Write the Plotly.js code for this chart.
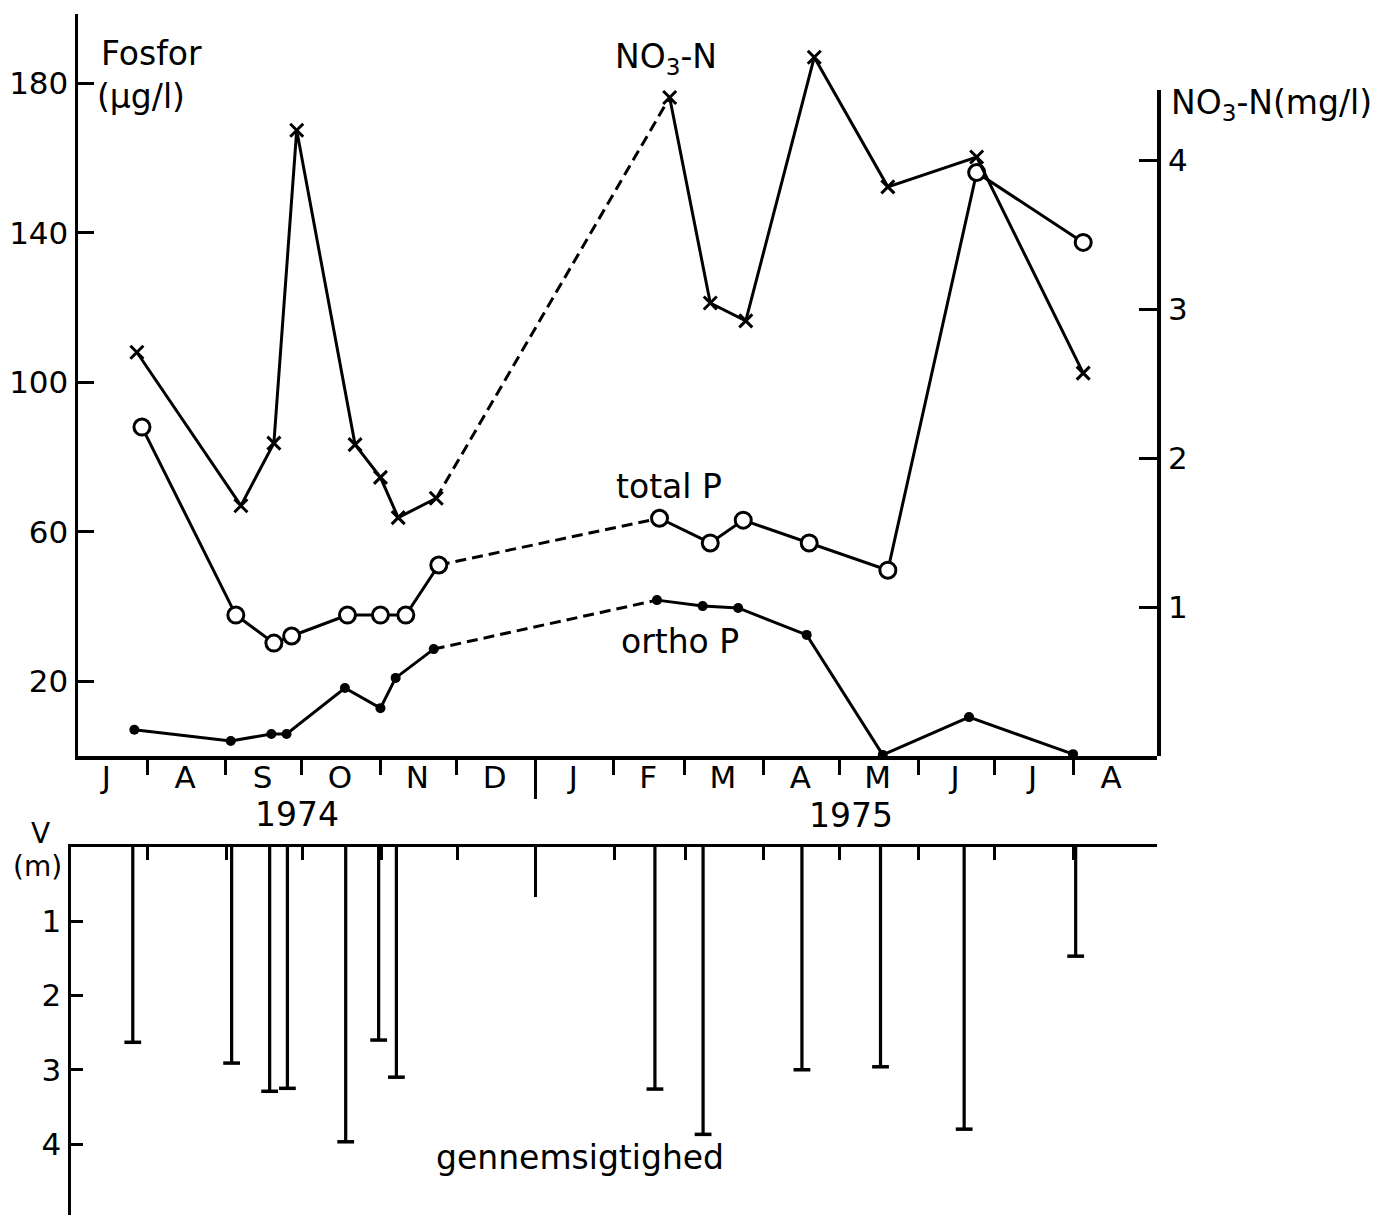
<!DOCTYPE html>
<html><head><meta charset="utf-8">
<script src="https://cdn.plot.ly/plotly-3.0.1.min.js"></script>
<style>html,body{margin:0;padding:0;background:#fff}</style>
</head><body>
<div id="chart" style="width:1380px;height:1218px"></div>
<script>
// ---------------- data ----------------
const totalPDates = ['1974-07-30','1974-09-05','1974-09-20','1974-09-27','1974-10-19','1974-11-01','1974-11-11','1974-11-24','1975-02-19','1975-03-11','1975-03-24','1975-04-19','1975-05-20','1975-06-24','1975-08-05'];
const totalP      = [88.0, 37.7, 30.2, 32.1, 37.7, 37.7, 37.7, 51.1, 63.6, 57.0, 63.1, 57.0, 49.7, 156.1, 137.4];

const orthoPDates = ['1974-07-27','1974-09-03','1974-09-19','1974-09-25','1974-10-18','1974-11-01','1974-11-07','1974-11-22','1975-02-18','1975-03-08','1975-03-22','1975-04-18','1975-05-18','1975-06-21','1975-08-01'];
const orthoP      = [7.0, 4.0, 5.9, 5.9, 18.2, 12.8, 20.9, 28.6, 41.7, 40.1, 39.6, 32.4, 0.3, 10.4, 0.5];

const no3Dates = ['1974-07-28','1974-09-07','1974-09-20','1974-09-29','1974-10-22','1974-11-01','1974-11-08','1974-11-23','1975-02-23','1975-03-11','1975-03-25','1975-04-21','1975-05-20','1975-06-24','1975-08-05'];
const no3N     = [2.71, 1.68, 2.10, 4.20, 2.09, 1.87, 1.60, 1.73, 4.42, 3.04, 2.92, 4.69, 3.82, 4.02, 2.57];

const secchiDates = ['1974-07-26','1974-09-03','1974-09-18','1974-09-25','1974-10-18','1974-10-31','1974-11-07','1975-02-17','1975-03-08','1975-04-16','1975-05-17','1975-06-19','1975-08-02'];
const secchiDepth = [2.63, 2.91, 3.29, 3.25, 3.97, 2.60, 3.10, 3.26, 3.87, 3.00, 2.96, 3.80, 1.47];

// index of the last sample before the winter gap (drawn dashed to the next one)
const winterGapStart = 7;

// axis ticks / labels
const monthStarts  = ['1974-08-01','1974-09-01','1974-10-01','1974-11-01','1974-12-01','1975-01-01','1975-02-01','1975-03-01','1975-04-01','1975-05-01','1975-06-01','1975-07-01','1975-08-01'];
const monthMids    = ['1974-07-16','1974-08-16','1974-09-15 12:00','1974-10-16','1974-11-15 12:00','1974-12-16','1975-01-16','1975-02-14 12:00','1975-03-16','1975-04-15 12:00','1975-05-16','1975-06-15 12:00','1975-07-16','1975-08-16'];
const monthLetters = ['J','A','S','O','N','D','J','F','M','A','M','J','J','A'];
const yearStart    = ['1975-01-01'];
const fosforTicks  = [20, 60, 100, 140, 180];
const no3Ticks     = [1, 2, 3, 4];
const depthTicks   = [1, 2, 3, 4];

// ---------------- layout helpers ----------------
const W = 1380, H = 1218;
const px = x => x / W, py = y => 1 - y / H;
const F = 'DejaVu Sans, Roboto, sans-serif';
const xRangeTop = ['1974-07-04 19:00', '1975-09-03 02:00'];
const xRangeBot = ['1974-07-01 15:00', '1975-09-03 02:00'];

const LW = 3;
const solid = {color:'black', width:LW};
const dashed = {color:'black', width:LW, dash:'11px,6px'};
const mTotal = {symbol:'circle', size:16, color:'white', line:{color:'black', width:LW}};
const mOrtho = {symbol:'circle', size:10, color:'black', line:{width:0}};
const mNo3   = {symbol:'x-thin-open', size:13, color:'black', line:{color:'black', width:LW}};

function series(xs, ys, marker, yaxis){
  const g = winterGapStart;
  return [
    {type:'scatter', mode:'lines', x:xs.slice(g, g+2), y:ys.slice(g, g+2), line:dashed, xaxis:'x', yaxis:yaxis, hoverinfo:'skip'},
    {type:'scatter', mode:'lines+markers', x:xs.slice(0, g+1), y:ys.slice(0, g+1), line:solid, marker:marker, xaxis:'x', yaxis:yaxis, cliponaxis:false},
    {type:'scatter', mode:'lines+markers', x:xs.slice(g+1), y:ys.slice(g+1), line:solid, marker:marker, xaxis:'x', yaxis:yaxis, cliponaxis:false}
  ];
}

const data = [].concat(
  series(no3Dates, no3N, mNo3, 'y2'),
  series(totalPDates, totalP, mTotal, 'y'),
  series(orthoPDates, orthoP, mOrtho, 'y'),
  [
    {type:'bar', x:secchiDates, y:secchiDepth, xaxis:'x2', yaxis:'y3', width:1.1e8, marker:{color:'black', line:{width:0}}, hoverinfo:'skip'},
    {type:'scatter', mode:'markers', x:secchiDates, y:secchiDepth, xaxis:'x2', yaxis:'y3', marker:{symbol:'line-ew-open', size:12, color:'black', line:{color:'black', width:3.5}}, cliponaxis:false},
    // empty helpers so that the decorative axes are drawn
    {type:'scatter', x:[], y:[], xaxis:'x3', yaxis:'y'},
    {type:'scatter', x:[], y:[], xaxis:'x4', yaxis:'y'},
    {type:'scatter', x:[], y:[], xaxis:'x5', yaxis:'y3'},
    {type:'scatter', x:[], y:[], xaxis:'x', yaxis:'y4'}
  ]
);

const axBase = {showgrid:false, zeroline:false, linecolor:'black', tickcolor:'black', fixedrange:true,
                tickfont:{family:F, size:31, color:'black'}};

const ann = (text, x, y, xanchor='center', size=33) => ({text:text, x:px(x), y:py(y), xref:'paper', yref:'paper',
  xanchor:xanchor, yanchor:'middle', showarrow:false, font:{family:F, size:size, color:'black'}});

const layout = {
  width:W, height:H, margin:{l:0, r:0, t:0, b:0},
  paper_bgcolor:'white', plot_bgcolor:'rgba(0,0,0,0)', showlegend:false,
  font:{family:F, size:31, color:'black'},
  xaxis: Object.assign({}, axBase, {type:'date', domain:[px(78), px(1157)], range:xRangeTop, anchor:'y',
          showline:true, linewidth:3.5, tickmode:'array', tickvals:monthStarts, ticks:'outside', ticklen:15, tickwidth:3,
          showticklabels:false}),
  xaxis3: Object.assign({}, axBase, {type:'date', overlaying:'x', anchor:'y', side:'bottom', range:xRangeTop,
          tickmode:'array', tickvals:monthMids, ticktext:monthLetters, ticks:'', showline:false, showticklabels:true}),
  xaxis4: Object.assign({}, axBase, {type:'date', overlaying:'x', anchor:'y', side:'bottom', range:xRangeTop,
          tickmode:'array', tickvals:yearStart, ticks:'outside', ticklen:42, tickwidth:3, showline:false, showticklabels:false}),
  xaxis2: Object.assign({}, axBase, {type:'date', domain:[px(71), px(1157)], range:xRangeBot, anchor:'y3', side:'top',
          showline:true, linewidth:3.5, tickmode:'array', tickvals:monthStarts, ticks:'inside', ticklen:13, tickwidth:3,
          showticklabels:false}),
  xaxis5: Object.assign({}, axBase, {type:'date', overlaying:'x2', anchor:'y3', side:'top', range:xRangeBot,
          tickmode:'array', tickvals:yearStart, ticks:'inside', ticklen:50, tickwidth:3, showline:false, showticklabels:false}),
  yaxis: Object.assign({}, axBase, {domain:[py(756), py(14)], range:[0, 198.5], anchor:'x', tickmode:'array',
          tickvals:fosforTicks, ticks:'inside', ticklen:16, tickwidth:3, showline:true, linewidth:3.5}),
  yaxis2: Object.assign({}, axBase, {overlaying:'y', side:'right', anchor:'x', range:[0, 4.98], tickmode:'array',
          tickvals:no3Ticks, ticks:'inside', ticklen:18, tickwidth:3, showline:false, ticklabelstandoff:10}),
  yaxis4: Object.assign({}, axBase, {domain:[py(756), py(90)], anchor:'x', side:'right', range:[0, 1],
          showline:true, linewidth:3.5, ticks:'', showticklabels:false}),
  yaxis3: Object.assign({}, axBase, {domain:[py(1215), py(847)], range:[4.956, 0], anchor:'x2', tickmode:'array',
          tickvals:depthTicks, ticks:'inside', ticklen:12, tickwidth:3, showline:true, linewidth:3.5}),
  annotations: [
    ann('Fosfor', 99, 53, 'left'),
    ann('(µg/l)', 95, 96, 'left'),
    ann('NO<sub>3</sub>-N', 666, 58),
    ann('NO<sub>3</sub>-N(mg/l)', 1169, 104, 'left'),
    ann('total P', 669, 486),
    ann('ortho P', 680, 641),
    ann('1974', 297, 814),
    ann('1975', 851, 815),
    ann('gennemsigtighed', 580, 1157),
    ann('V', 40, 833, 'center', 28),
    ann('(m)', 37, 866, 'center', 28)
  ]
};

Plotly.newPlot('chart', data, layout, {staticPlot:true, displayModeBar:false});
</script>
</body></html>
